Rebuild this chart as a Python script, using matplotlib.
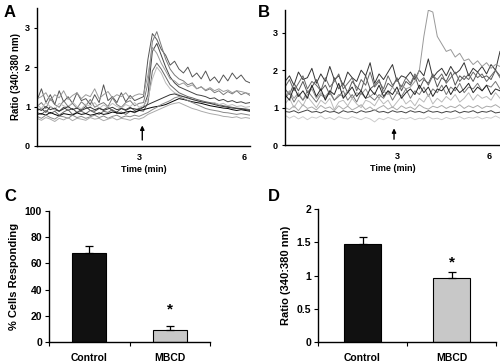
import numpy as np
import matplotlib
matplotlib.use("Agg")
import matplotlib.pyplot as plt

plt.rcParams['font.family'] = ['Liberation Sans', 'DejaVu Sans']
plt.rcParams['font.weight'] = 'bold'

# ---- panel A traces (ratio 340:380), 49 samples across the time axis ----
a_traces = [
    [1.15, 1.45, 1.10, 1.30, 1.05, 1.40, 1.12, 1.25, 1.08, 1.35, 1.15, 1.20, 1.05, 1.30, 1.10, 1.55, 1.15,
     1.25, 1.10, 1.35, 1.12, 1.28, 1.15, 1.20, 1.25,
     2.20, 2.85, 2.70, 2.45, 2.30, 2.05, 2.15, 1.95, 1.85, 2.00, 1.75, 1.85, 1.70, 1.90, 1.65, 1.75, 1.60,
     1.80, 1.65, 1.85, 1.70, 1.80, 1.65, 1.60],
    [1.00, 1.10, 0.95, 1.20, 1.05, 0.98, 1.15, 1.00, 1.08, 0.95, 1.12, 1.02, 1.18, 0.98, 1.05, 1.10, 1.00,
     1.22, 1.05, 0.98, 1.10, 1.15, 1.02, 1.08, 1.10,
     1.60, 2.65, 2.90, 2.55, 2.20, 1.95, 1.80, 1.70, 1.65, 1.55, 1.60, 1.45, 1.50, 1.40, 1.45, 1.35, 1.40,
     1.30, 1.38, 1.32, 1.40, 1.30, 1.35, 1.28],
    [0.90, 0.95, 0.85, 1.00, 0.92, 0.88, 0.98, 0.90, 0.95, 0.85, 0.92, 1.00, 0.90, 0.88, 0.95, 0.92, 0.98,
     0.90, 0.86, 0.95, 0.92, 0.98, 0.90, 0.95, 0.98,
     1.30, 2.40, 2.60, 2.30, 2.00, 1.75, 1.60, 1.50, 1.45, 1.40, 1.35, 1.30, 1.28, 1.25, 1.20, 1.22, 1.15,
     1.18, 1.12, 1.15, 1.10, 1.12, 1.08, 1.10],
    [1.20, 1.25, 1.35, 1.15, 1.30, 1.22, 1.40, 1.18, 1.28, 1.35, 1.20, 1.30, 1.25, 1.45, 1.20, 1.30, 1.38,
     1.22, 1.30, 1.25, 1.35, 1.20, 1.28, 1.32, 1.30,
     1.80, 2.50, 2.35, 2.10, 1.90, 1.70, 1.65, 1.55, 1.60, 1.50, 1.55, 1.45, 1.50, 1.42, 1.48, 1.40, 1.45,
     1.38, 1.42, 1.35, 1.40, 1.38, 1.35, 1.32],
    [0.85, 0.80, 0.90, 0.82, 0.88, 0.78, 0.86, 0.92, 0.80, 0.85, 0.88, 0.82, 0.90, 0.84, 0.80, 0.88, 0.85,
     0.92, 0.82, 0.86, 0.80, 0.88, 0.84, 0.90, 0.88,
     1.10, 1.90, 2.10, 1.95, 1.75, 1.55, 1.45, 1.35, 1.30, 1.25, 1.22, 1.18, 1.15, 1.12, 1.10, 1.08, 1.05,
     1.02, 1.00, 0.98, 0.96, 0.95, 0.94, 0.92],
    [1.05, 0.95, 1.10, 1.00, 0.92, 1.08, 1.02, 0.96, 1.12, 1.00, 0.94, 1.06, 1.00, 1.10, 0.95, 1.04, 0.98,
     1.08, 1.00, 0.96, 1.05, 1.00, 1.10, 0.98, 1.02,
     1.20, 1.70, 2.00, 1.85, 1.60, 1.45, 1.35, 1.30, 1.25, 1.20, 1.18, 1.15, 1.12, 1.10, 1.08, 1.10, 1.05,
     1.08, 1.02, 1.05, 1.00, 1.02, 0.98, 1.00],
    [0.80, 0.82, 0.78, 0.85, 0.80, 0.76, 0.82, 0.80, 0.78, 0.84, 0.80, 0.82, 0.78, 0.80, 0.84, 0.80, 0.82,
     0.86, 0.84, 0.82, 0.86, 0.88, 0.86, 0.90, 0.92,
     0.95, 0.98, 1.00, 1.02, 1.05, 1.10, 1.15, 1.20, 1.18, 1.15, 1.12, 1.10, 1.08, 1.05, 1.02, 1.00, 0.98,
     0.96, 0.95, 0.92, 0.90, 0.92, 0.90, 0.88],
    [0.75, 0.70, 0.78, 0.72, 0.68, 0.76, 0.74, 0.70, 0.78, 0.72, 0.75, 0.70, 0.74, 0.78, 0.72, 0.76, 0.70,
     0.75, 0.78, 0.72, 0.76, 0.74, 0.78, 0.75, 0.80,
     0.85, 0.92, 0.98, 1.05, 1.10, 1.15, 1.22, 1.25, 1.20, 1.15, 1.10, 1.05, 1.00, 0.95, 0.92, 0.90, 0.88,
     0.85, 0.84, 0.82, 0.80, 0.82, 0.80, 0.78],
    [0.95, 0.90, 1.00, 0.92, 0.96, 0.88, 0.94, 1.00, 0.92, 0.96, 0.90, 0.95, 0.98, 0.92, 0.96, 0.90, 0.94,
     0.98, 0.92, 0.95, 0.90, 0.96, 0.94, 0.92, 0.98,
     1.05, 1.10, 1.15, 1.20, 1.25, 1.30, 1.32, 1.28, 1.25, 1.22, 1.18, 1.15, 1.12, 1.10, 1.08, 1.05, 1.02,
     1.00, 0.98, 0.96, 0.95, 0.94, 0.92, 0.90],
    [0.70, 0.65, 0.72, 0.68, 0.62, 0.70, 0.66, 0.72, 0.64, 0.70, 0.68, 0.65, 0.72, 0.68, 0.70, 0.64, 0.68,
     0.72, 0.66, 0.70, 0.68, 0.65, 0.70, 0.68, 0.72,
     0.80, 0.85, 0.90, 0.95, 1.00, 1.05, 1.08, 1.10, 1.05, 1.00, 0.95, 0.92, 0.88, 0.85, 0.82, 0.80, 0.78,
     0.75, 0.74, 0.72, 0.74, 0.70, 0.72, 0.70],
]
a_colors = ['#555555', '#7a7a7a', '#444444', '#9a9a9a', '#666666', '#bbbbbb',
            '#000000', '#888888', '#333333', '#aaaaaa']

# ---- panel B traces (MBCD) ----
b_traces = [
    [1.70, 1.85, 1.60, 1.95, 1.75, 1.80, 2.05, 1.65, 1.90, 1.70, 2.10, 1.75, 1.85, 1.60,
     1.95, 1.80, 1.70, 2.00, 1.85, 2.20, 1.65, 1.90, 1.75, 1.95, 2.15, 1.70, 1.85, 1.80,
     1.95, 1.75, 2.00, 1.85, 2.30, 1.80, 1.95, 2.05, 1.85, 2.10, 1.90, 2.00, 2.20, 1.85,
     2.05, 1.95, 2.10, 1.90, 2.15, 2.00, 2.50],
    [1.50, 1.35, 1.65, 1.45, 1.70, 1.40, 1.55, 1.75, 1.45, 1.60, 1.35, 1.80, 1.50, 1.65,
     1.40, 1.70, 1.55, 1.45, 1.85, 1.50, 1.60, 1.75, 1.40, 1.65, 1.55, 1.80, 1.45, 1.70,
     1.60, 1.85, 1.50, 1.75, 1.65, 1.90, 1.55, 1.80, 1.70, 1.95, 1.60, 1.85, 1.75, 1.90,
     1.70, 1.95, 1.80, 1.85, 1.75, 2.00, 1.85],
    [1.30, 1.45, 1.25, 1.40, 1.20, 1.35, 1.50, 1.25, 1.40, 1.30, 1.45, 1.20, 1.35, 1.30,
     1.45, 1.25, 1.40, 1.35, 1.50, 1.30, 1.40, 1.25, 1.45, 1.35, 1.55, 1.40, 1.60, 1.50,
     1.55, 1.70, 2.00, 2.90, 3.60, 3.55, 2.90, 2.70, 2.50, 2.55, 2.35, 2.45, 2.25, 2.30,
     2.15, 2.25, 2.10, 2.20, 2.05, 2.15, 2.10],
    [1.25, 1.40, 1.15, 1.35, 1.20, 1.45, 1.30, 1.15, 1.35, 1.25, 1.40, 1.20, 1.30, 1.45,
     1.20, 1.35, 1.15, 1.40, 1.25, 1.30, 1.20, 1.35, 1.25, 1.45, 1.20, 1.40, 1.30, 1.50,
     1.25, 1.45, 1.35, 1.55, 1.30, 1.50, 1.40, 1.60, 1.35, 1.55, 1.45, 1.65, 1.40, 1.55,
     1.50, 1.65, 1.45, 1.60, 1.55, 1.70, 1.50],
    [1.10, 1.25, 1.00, 1.20, 1.05, 1.30, 1.15, 1.00, 1.20, 1.10, 1.25, 0.95, 1.15, 1.20,
     1.05, 1.25, 1.10, 1.00, 1.20, 1.15, 1.05, 1.25, 1.10, 1.20, 1.00, 1.15, 1.30, 1.10,
     1.20, 1.05, 1.25, 1.15, 1.35, 1.10, 1.25, 1.15, 1.30, 1.20, 1.35, 1.15, 1.25, 1.40,
     1.20, 1.35, 1.25, 1.30, 1.20, 1.40, 1.25],
    [0.90, 0.88, 0.92, 0.86, 0.90, 0.94, 0.88, 0.90, 0.86, 0.92, 0.88, 0.90, 0.85, 0.92,
     0.88, 0.90, 0.86, 0.92, 0.88, 0.90, 0.94, 0.88, 0.90, 0.86, 0.92, 0.88, 0.90, 0.86,
     0.92, 0.88, 0.90, 0.86, 0.92, 0.88, 0.90, 0.86, 0.90, 0.88, 0.92, 0.86, 0.90, 0.88,
     0.92, 0.86, 0.90, 0.88, 0.92, 0.86, 0.88],
    [0.80, 0.72, 0.78, 0.70, 0.76, 0.68, 0.75, 0.72, 0.78, 0.70, 0.74, 0.68, 0.76, 0.72,
     0.70, 0.76, 0.72, 0.68, 0.74, 0.70, 0.62, 0.72, 0.68, 0.74, 0.70, 0.66, 0.72, 0.70,
     0.74, 0.68, 0.72, 0.70, 0.76, 0.70, 0.72, 0.68, 0.74, 0.70, 0.72, 0.76, 0.70, 0.74,
     0.72, 0.76, 0.70, 0.74, 0.72, 0.78, 0.72],
    [1.55, 1.75, 1.45, 1.65, 1.85, 1.50, 1.70, 1.60, 1.45, 1.80, 1.55, 1.70, 1.90, 1.50,
     1.65, 1.80, 1.45, 1.75, 1.60, 1.95, 1.55, 1.70, 1.50, 1.85, 1.60, 1.75, 1.55, 1.80,
     1.65, 1.90, 1.70, 1.80, 1.60, 1.85, 1.75, 1.90, 1.65, 1.80, 1.95, 1.70, 1.85, 1.75,
     1.95, 1.80, 1.90, 1.70, 1.85, 2.00, 1.80],
    [1.00, 0.95, 1.05, 0.92, 1.08, 0.98, 1.02, 0.94, 1.06, 0.98, 1.02, 0.92, 1.05, 0.96,
     1.04, 0.94, 1.00, 1.08, 0.95, 1.02, 0.92, 1.00, 1.06, 0.96, 1.02, 0.94, 1.05, 0.98,
     1.02, 0.95, 1.08, 1.00, 0.96, 1.04, 1.00, 1.06, 0.98, 1.04, 1.00, 1.08, 0.98, 1.05,
     1.00, 1.06, 0.98, 1.04, 1.02, 1.08, 1.00],
    [1.35, 1.20, 1.55, 1.30, 1.45, 1.25, 1.60, 1.30, 1.50, 1.20, 1.45, 1.35, 1.65, 1.25,
     1.40, 1.55, 1.30, 1.45, 1.25, 1.50, 1.35, 1.60, 1.30, 1.45, 1.35, 1.55, 1.25, 1.40,
     1.50, 1.35, 1.60, 1.40, 1.55, 1.30, 1.50, 1.45, 1.60, 1.35, 1.55, 1.40, 1.50, 1.65,
     1.40, 1.55, 1.45, 1.60, 1.35, 1.50, 1.45],
]
b_colors = ['#333333', '#555555', '#999999', '#777777', '#bbbbbb',
            '#444444', '#cccccc', '#666666', '#aaaaaa', '#222222']

# ---- bar panels ----
groups = ['Control', 'MBCD']
pct_responding = [68, 9]
pct_err = [5, 3]
peak_ratio = [1.47, 0.97]
peak_err = [0.11, 0.09]
bar_colors = ['#111111', '#c8c8c8']

fig = plt.figure(figsize=(5.0, 3.63), dpi=100)

axA = fig.add_axes([0.074, 0.598, 0.426, 0.38])
axB = fig.add_axes([0.570, 0.600, 0.430, 0.372])
axC = fig.add_axes([0.098, 0.058, 0.322, 0.361])
axD = fig.add_axes([0.636, 0.058, 0.356, 0.366])

tick_fs = 6.5


def trace_panel(ax, traces, colors, xlim, ylim, yticks, arrow_t, arrow_y):
    t = np.linspace(xlim[0], xlim[1], len(traces[0]))
    for y, c in zip(traces, colors):
        ax.plot(t, y, color=c, lw=0.7)
    ax.set_xlim(*xlim)
    ax.set_ylim(*ylim)
    ax.set_xticks([3, 6])
    ax.set_yticks(yticks)
    ax.tick_params(axis='x', length=0, labelsize=tick_fs, pad=5)
    ax.tick_params(axis='y', length=2, width=0.8, labelsize=tick_fs, pad=3)
    for s in ['top', 'right']:
        ax.spines[s].set_visible(False)
    for s in ['left', 'bottom']:
        ax.spines[s].set_linewidth(1.0)
    ax.set_xlabel('Time (min)', fontsize=6.5, fontweight='bold', labelpad=2)
    ax.annotate('', xy=(arrow_t, arrow_y[1]), xytext=(arrow_t, arrow_y[0]),
                arrowprops=dict(arrowstyle='-|>', color='black', lw=1.0,
                                mutation_scale=6, shrinkA=0, shrinkB=0))


trace_panel(axA, a_traces, a_colors, (0.08, 6.17), (0, 3.5), [0, 1, 2, 3], 3.09, (0.15, 0.52))
axA.set_ylabel('Ratio (340:380 nm)', fontsize=7, fontweight='bold', labelpad=3)
trace_panel(axB, b_traces, b_colors, (-0.65, 6.35), (0, 3.6), [0, 1, 2, 3], 2.9, (0.16, 0.45))


def bar_panel(ax, vals, errs, ylim, yticks, ylabel, star_y):
    xs = np.array([0.5, 1.5])
    ax.bar(xs, vals, width=0.42, color=bar_colors, edgecolor='black', linewidth=0.8, zorder=2)
    ax.errorbar(xs, vals, yerr=[[0, 0], errs], fmt='none', ecolor='black',
                elinewidth=0.9, capsize=3, capthick=0.9, zorder=3)
    ax.text(xs[1], star_y, '*', ha='center', va='center', fontsize=11, fontweight='bold')
    ax.set_xlim(0, 2)
    ax.set_ylim(*ylim)
    ax.set_yticks(yticks)
    ax.set_xticks([0, 1, 2])
    ax.set_xticklabels([])
    ax.set_xticks(xs, minor=True)
    ax.set_xticklabels(groups, minor=True)
    ax.tick_params(axis='x', which='major', length=3, width=0.8, direction='out')
    ax.tick_params(axis='x', which='minor', length=0, labelsize=7.5, pad=8)
    ax.tick_params(axis='y', length=3, width=0.8, labelsize=7.5, pad=2)
    for s in ['top', 'right']:
        ax.spines[s].set_visible(False)
    for s in ['left', 'bottom']:
        ax.spines[s].set_linewidth(1.0)
    ax.set_ylabel(ylabel, fontsize=8, fontweight='bold', labelpad=4)


bar_panel(axC, pct_responding, pct_err, (0, 100), [0, 20, 40, 60, 80, 100],
          '% Cells Responding', 25)
bar_panel(axD, peak_ratio, peak_err, (0, 2), [0, 0.5, 1, 1.5, 2],
          'Ratio (340:380 nm)', 1.2)
axD.set_yticklabels(['0', '0.5', '1', '1.5', '2'])

for lab, x, y in [('A', 0.008, 0.985), ('B', 0.515, 0.985), ('C', 0.008, 0.48), ('D', 0.535, 0.48)]:
    fig.text(x, y, lab, fontsize=12, fontweight='bold', va='top', ha='left')

fig.savefig('out.png', dpi=100)
